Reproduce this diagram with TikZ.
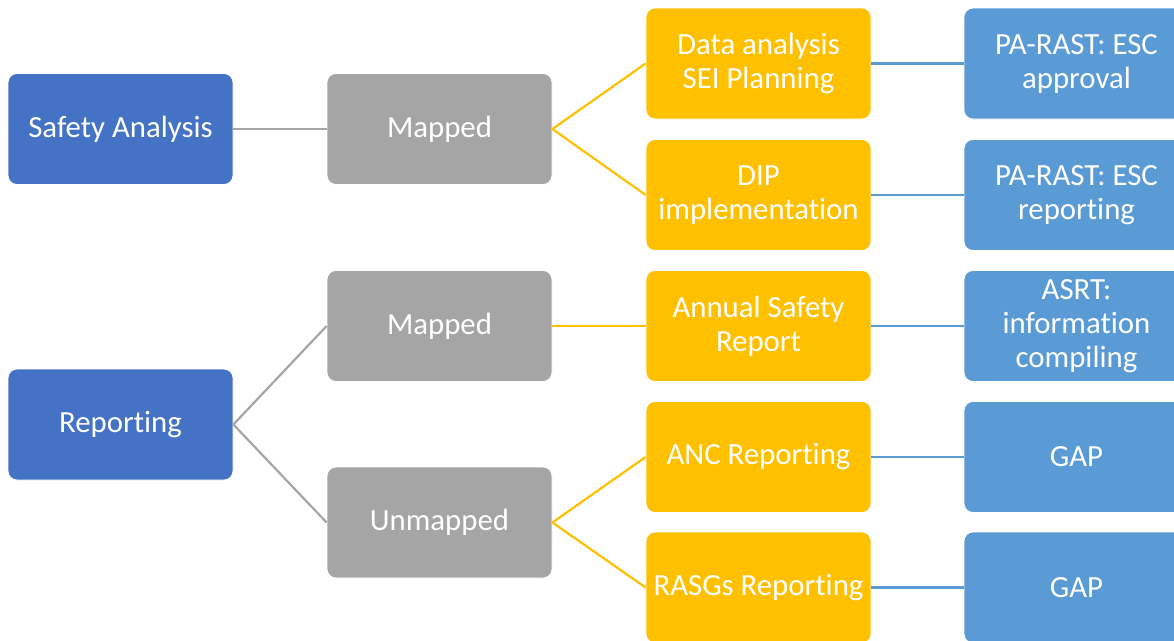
\documentclass[tikz,border=0pt]{standalone}
\usepackage{fontspec}
\setmainfont{Carlito}[Ligatures=NoCommon]
\definecolor{dblue}{HTML}{4472C4}
\definecolor{mgrey}{HTML}{A5A5A5}
\definecolor{gold}{HTML}{FFC000}
\definecolor{lblue}{HTML}{5B9BD5}
\begin{document}
\begin{tikzpicture}[x=1pt,y=-1pt,
  box/.style={rectangle, rounded corners=9pt, minimum width=225pt, minimum height=111pt,
    inner sep=2pt, draw=white, line width=0.8pt, text=white, align=center,
    font=\fontsize{30.8}{34}\selectfont},
  lvlA/.style={box, fill=dblue},
  lvlB/.style={box, fill=mgrey},
  lvlC/.style={box, fill=gold},
  lvlD/.style={box, fill=lblue},
  lnB/.style={draw=mgrey, line width=2.2pt},
  lnC/.style={draw=gold, line width=2.2pt},
  lnD/.style={draw=lblue, line width=2.2pt}]
\useasboundingbox (0,0) rectangle (1174,640);
\clip (0,0) rectangle (1174,640);
% column 1
\node[lvlA] (sa) at (120.5,129) {Safety Analysis};
\node[lvlA] (rep) at (120.5,424.5) {Reporting};
% column 2
\node[lvlB] (m1) at (439.5,129) {Mapped};
\node[lvlB] (m2) at (439.5,326) {Mapped};
\node[lvlB] (um) at (439.5,522.5) {Unmapped};
% column 3
\node[lvlC] (c1) at (758.5,63.5) {Data analysis\\SEI Planning};
\node[lvlC] (c2) at (758.5,195) {DIP\\implementation};
\node[lvlC] (c3) at (758.5,326) {Annual Safety\\Report};
\node[lvlC] (c4) at (758.5,457) {ANC Reporting};
\node[lvlC] (c5) at (758.5,587.5) {RASGs Reporting};
% column 4
\node[lvlD] (d1) at (1076.5,63.5) {PA-RAST: ESC\\approval};
\node[lvlD] (d2) at (1076.5,195) {PA-RAST: ESC\\reporting};
\node[lvlD] (d3) at (1076.5,326) {ASRT:\\information\\compiling};
\node[lvlD] (d4) at (1076.5,457) {GAP};
\node[lvlD] (d5) at (1076.5,587.5) {GAP};
% connectors
\draw[lnB] (sa.east) -- (m1.west);
\draw[lnB] (rep.east) -- (m2.west);
\draw[lnB] (rep.east) -- (um.west);
\draw[lnC] (m1.east) -- (c1.west);
\draw[lnC] (m1.east) -- (c2.west);
\draw[lnC] (m2.east) -- (c3.west);
\draw[lnC] (um.east) -- (c4.west);
\draw[lnC] (um.east) -- (c5.west);
\draw[lnD] (c1.east) -- (d1.west);
\draw[lnD] (c2.east) -- (d2.west);
\draw[lnD] (c3.east) -- (d3.west);
\draw[lnD] (c4.east) -- (d4.west);
\draw[lnD] (c5.east) -- (d5.west);
\end{tikzpicture}
\end{document}
